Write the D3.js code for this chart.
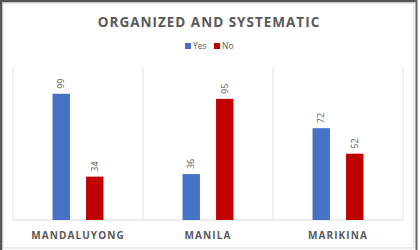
<!DOCTYPE html>
<html>
<head>
<meta charset="utf-8">
<script src="https://cdn.jsdelivr.net/npm/d3@7"></script>
<style>
  body { margin: 0; background: #fff; }
  text { font-family: "Open Sans", "Noto Sans", sans-serif; }
</style>
</head>
<body>
<div class="chart"></div>
<script>
// data
var categories = ["MANDALUYONG", "MANILA", "MARIKINA"];
var seriesNames = ["Yes", "No"];
var yesValues = [99, 36, 72];
var noValues = [34, 95, 52];
var colors = ["#4472C4", "#C00000"];

var svgW = 420, svgH = 250;
var margin = { top: 67, right: 17, bottom: 30, left: 13 };
var chartW = svgW - margin.left - margin.right;
var chartH = svgH - margin.top - margin.bottom;

var svg = d3.select(".chart").append("svg")
    .attr("width", svgW)
    .attr("height", svgH);

// frame
svg.append("rect").attr("x", 3).attr("y", 3).attr("width", 411).attr("height", 245)
    .attr("fill", "#fff").attr("stroke", "#d9d9d9").attr("stroke-width", 1);
svg.append("line").attr("x1", 1).attr("x2", 1).attr("y1", 0).attr("y2", svgH)
    .attr("stroke", "#555").attr("stroke-width", 2.5);
svg.append("line").attr("x1", 0).attr("x2", 417).attr("y1", 1).attr("y2", 1)
    .attr("stroke", "#555").attr("stroke-width", 2.5);
svg.append("line").attr("x1", 416.5).attr("x2", 416.5).attr("y1", 0).attr("y2", svgH)
    .attr("stroke", "#666").attr("stroke-width", 2);

// title
svg.append("text")
    .attr("x", 209).attr("y", 27)
    .attr("text-anchor", "middle")
    .attr("font-size", 13.5).attr("font-weight", "bold")
    .attr("letter-spacing", 1)
    .attr("fill", "#595959")
    .text("ORGANIZED AND SYSTEMATIC");

// legend
var legend = svg.append("g").attr("transform", "translate(185,47)");
seriesNames.forEach(function(name, i) {
    var g = legend.append("g").attr("transform", "translate(" + (i * 29) + ",0)");
    g.append("rect").attr("x", 0).attr("y", -4).attr("width", 6).attr("height", 6).attr("fill", colors[i]);
    g.append("text").attr("x", 8).attr("y", 2).attr("font-size", 8.5).attr("fill", "#595959").text(name);
});

var chart = svg.append("g").attr("transform", "translate(" + margin.left + "," + margin.top + ")");

var x = d3.scaleBand().domain(categories).range([0, chartW]);
var x1 = d3.scaleBand().domain(seriesNames).range([0, x.bandwidth()])
    .paddingInner(0.48).paddingOuter(1.18);
var y = d3.scaleLinear().domain([0, 120]).range([chartH, 0]);

// separators
chart.selectAll(".sep").data(d3.range(categories.length + 1)).enter().append("line")
    .attr("x1", function(i) { return i * x.bandwidth(); })
    .attr("x2", function(i) { return i * x.bandwidth(); })
    .attr("y1", 0).attr("y2", chartH)
    .attr("stroke", "#e3e3e3").attr("stroke-width", 1);
chart.append("line").attr("x1", 0).attr("x2", chartW).attr("y1", chartH).attr("y2", chartH)
    .attr("stroke", "#d9d9d9").attr("stroke-width", 1);

var rows = categories.map(function(c, i) {
    return [{ cat: c, s: "Yes", v: yesValues[i] }, { cat: c, s: "No", v: noValues[i] }];
});
var flat = [].concat.apply([], rows);

chart.selectAll(".bar").data(flat).enter().append("rect")
    .attr("x", function(d) { return x(d.cat) + x1(d.s); })
    .attr("y", function(d) { return y(d.v); })
    .attr("width", x1.bandwidth())
    .attr("height", function(d) { return chartH - y(d.v); })
    .attr("fill", function(d) { return colors[seriesNames.indexOf(d.s)]; });

chart.selectAll(".val").data(flat).enter().append("text")
    .attr("transform", function(d) {
        var cx = x(d.cat) + x1(d.s) + x1.bandwidth() / 2 + 3;
        return "translate(" + cx + "," + (y(d.v) - 5) + ") rotate(-90)";
    })
    .attr("font-size", 9).attr("fill", "#595959")
    .text(function(d) { return d.v; });

// category labels
chart.selectAll(".cat").data(categories).enter().append("text")
    .attr("x", function(d) { return x(d) + x.bandwidth() / 2; })
    .attr("y", chartH + 19)
    .attr("text-anchor", "middle")
    .attr("font-size", 10).attr("font-weight", "bold")
    .attr("letter-spacing", 1.1)
    .attr("fill", "#595959")
    .text(function(d) { return d; });
</script>
</body>
</html>
